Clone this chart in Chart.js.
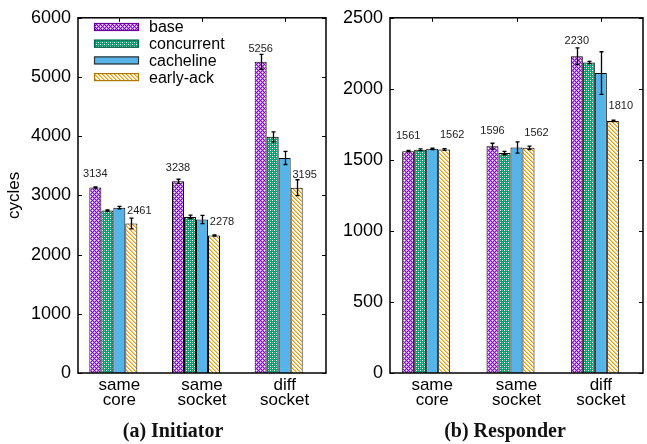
<!DOCTYPE html>
<html><head><meta charset="utf-8">
<script src="https://cdn.jsdelivr.net/npm/chart.js@4.4.0/dist/chart.umd.min.js"></script>
<style>
html,body{margin:0;padding:0;background:#fff;width:647px;height:444px;overflow:hidden;position:relative}
#c1{position:absolute;left:0;top:0;width:330px;height:444px}
#c2{position:absolute;left:330px;top:0;width:317px;height:444px}
.cap{position:absolute;top:419px;font-family:"Liberation Serif",serif;font-weight:bold;font-size:20px;line-height:22px;color:#111;text-align:center;width:200px}
</style></head><body>
<canvas id="c1" width="330" height="444"></canvas>
<canvas id="c2" width="317" height="444"></canvas>
<div class="cap" style="left:73px">(a) Initiator</div>
<div class="cap" style="left:405px">(b) Responder</div>
<script>
// ---------- data ----------
const categories = [['same','core'],['same','socket'],['diff','socket']];
const seriesNames = ['base','concurrent','cacheline','early-ack'];

const initiatorTicks = [0,1000,2000,3000,4000,5000,6000];
const initiatorBase = [3134, 3238, 5256];
const initiatorConcurrent = [2743, 2636, 3989];
const initiatorCacheline = [2793, 2592, 3632];
const initiatorEarlyAck = [2525, 2324, 3130];
const initiatorBaseErr = [10, 35, 125];
const initiatorConcurrentErr = [10, 30, 85];
const initiatorCachelineErr = [20, 70, 110];
const initiatorEarlyAckErr = [90, 10, 134];
const initiatorBaseLabels = ['3134','3238','5256'];
const initiatorEarlyAckLabels = ['2461','2278','3195'];

const responderTicks = [0,500,1000,1500,2000,2500];
const responderBase = [1561, 1596, 2230];
const responderConcurrent = [1571, 1548, 2186];
const responderCacheline = [1578, 1587, 2111];
const responderEarlyAck = [1573, 1585, 1774];
const responderBaseErr = [5, 21, 58];
const responderConcurrentErr = [6, 12, 8];
const responderCachelineErr = [5, 40, 150];
const responderEarlyAckErr = [6, 12, 5];
const responderBaseLabels = ['1561','1596','2230'];
const responderEarlyAckLabels = ['1562','1562','1810'];

// ---------- styles ----------
const PURPLE='#9400d3', GREEN='#009e73', BLUE='#56b4e9', ORANGE='#e69f00';
function makePatterns(ctx){
  function tile(n, draw){ const c=document.createElement('canvas'); c.width=c.height=n; const t=c.getContext('2d'); draw(t,n); return ctx.createPattern(c,'repeat'); }
  const base = tile(4,(t,n)=>{
    for(let x=0;x<n;x++)for(let y=0;y<n;y++){
      let col='#c77eee';
      if((x+y)%4===0||(x-y+8)%4===0) col=PURPLE;
      if((x===0&&y===2)||(x===2&&y===0)) col='#fff';
      t.fillStyle=col; t.fillRect(x,y,1,1);
    }});
  const conc = tile(4,(t,n)=>{ t.fillStyle=GREEN; t.fillRect(0,0,n,n);
    t.fillStyle='#fff'; t.fillRect(0,0,1,1); t.fillRect(2,2,1,1);
    t.fillStyle='#66c5aa'; t.fillRect(0,2,1,1); t.fillRect(2,0,1,1); });
  const early = tile(4,(t,n)=>{ t.fillStyle='#fff'; t.fillRect(0,0,n,n);
    for(let x=0;x<n;x++)for(let y=0;y<n;y++){
      const d=(x-y+8)%4;
      if(d===0){ t.fillStyle=ORANGE; t.fillRect(x,y,1,1); }
      else if(d===1){ t.fillStyle='#f2cc7a'; t.fillRect(x,y,1,1); }
    }});
  return [base, conc, BLUE, early];
}
const legendBorders = ['#6a0099','#00664a','#333','#b07800'];

const extras = {
  id:'extras',
  beforeDatasetsDraw(chart){
    const {ctx, chartArea:a, scales:{x,y}} = chart;
    ctx.save(); ctx.strokeStyle='#000'; ctx.lineWidth=1;
    y.ticks.forEach(t=>{ const py=Math.round(y.getPixelForValue(t.value))+0.5;
      ctx.beginPath(); ctx.moveTo(a.left,py); ctx.lineTo(a.left+4,py); ctx.moveTo(a.right,py); ctx.lineTo(a.right-4,py); ctx.stroke(); });
    x.ticks.forEach((t,i)=>{ const px=Math.round(x.getPixelForValue(i))+0.5;
      ctx.beginPath(); ctx.moveTo(px,a.top); ctx.lineTo(px,a.top+4); ctx.moveTo(px,a.bottom); ctx.lineTo(px,a.bottom-4); ctx.stroke(); });
    ctx.restore();
  },
  afterDatasetsDraw(chart, args, opts){
    const {ctx, chartArea:a, scales:{y}} = chart;
    ctx.save();
    // error bars
    ctx.strokeStyle='#000'; ctx.lineWidth=1.3;
    chart.data.datasets.forEach((ds,di)=>{
      if(!ds.errors) return;
      const meta=chart.getDatasetMeta(di);
      meta.data.forEach((bar,i)=>{
        const v=ds.data[i], e=ds.errors[i]; if(v==null) return;
        const x=Math.round(bar.x)+0.5, y1=y.getPixelForValue(v-e), y2=y.getPixelForValue(v+e);
        ctx.beginPath(); ctx.moveTo(x,y1); ctx.lineTo(x,y2);
        ctx.moveTo(x-2,y1); ctx.lineTo(x+2,y1); ctx.moveTo(x-2,y2); ctx.lineTo(x+2,y2); ctx.stroke();
      });
    });
    // value labels
    ctx.fillStyle='#222'; ctx.font='11px "Liberation Sans", Arial, sans-serif'; ctx.textAlign='center'; ctx.textBaseline='middle';
    const mb=chart.getDatasetMeta(0), me=chart.getDatasetMeta(3);
    opts.baseLabels.forEach((s,i)=>{ const b=mb.data[i]; ctx.fillText(s, b.x, b.y-opts.labelOffset); });
    opts.earlyLabels.forEach((s,i)=>{ const b=me.data[i]; ctx.fillText(s, b.x+8, b.y-opts.labelOffset); });
    // frame
    ctx.strokeStyle='#000'; ctx.lineWidth=1.5;
    ctx.strokeRect(a.left, a.top, a.right-a.left, a.bottom-a.top);
    // legend
    if(opts.legend){
      const L=opts.legend;
      ctx.font='16px "Liberation Sans", Arial, sans-serif'; ctx.textAlign='left'; ctx.fillStyle='#000';
      seriesNames.forEach((name,i)=>{
        const yy=L.y+i*L.gap;
        ctx.fillStyle=chart.data.datasets[i].backgroundColor; ctx.fillRect(L.x, yy-4, 45, 8);
        ctx.strokeStyle=legendBorders[i]; ctx.lineWidth=1.2; ctx.strokeRect(L.x+0.5, yy-4+0.5, 44, 7);
        ctx.fillStyle='#000'; ctx.fillText(name, L.x+55, yy+1);
      });
    }
    ctx.restore();
  }
};

function makeChart(id, cfg){
  const canvas=document.getElementById(id); const ctx=canvas.getContext('2d');
  const pats=makePatterns(ctx);
  const vals=[cfg.base,cfg.conc,cfg.cache,cfg.early], errs=[cfg.baseErr,cfg.concErr,cfg.cacheErr,cfg.earlyErr];
  const datasets = seriesNames.map((n,i)=>({label:n, data:vals[i], errors:errs[i], backgroundColor:pats[i], borderColor:'#000', borderWidth:1}));
  datasets.push({label:'', data:categories.map(()=>null)});
  return new Chart(ctx,{
    type:'bar',
    data:{labels:categories, datasets},
    options:{
      responsive:false, animation:false, events:[],
      datasets:{bar:{categoryPercentage:cfg.catPct, barPercentage:1}},
      layout:{padding:{top:15,right:4,left:0,bottom:0}},
      plugins:{legend:{display:false}, tooltip:{enabled:false},
        extras:{baseLabels:cfg.baseLabels, earlyLabels:cfg.earlyLabels, labelOffset:cfg.labelOffset, legend:cfg.legend}},
      scales:{
        x:{grid:{display:false,drawTicks:false}, border:{display:false},
           ticks:{color:'#000', padding:5, maxRotation:0, autoSkip:false, font:{family:'"Liberation Sans", Arial, sans-serif', size:17, lineHeight:'15px'}},
           afterFit(s){ s.height=71; }},
        y:{min:0, max:cfg.ticks[cfg.ticks.length-1], grid:{display:false,drawTicks:false}, border:{display:false},
           afterBuildTicks(s){ s.ticks=cfg.ticks.map(v=>({value:v})); },
           ticks:{color:'#000', padding:7, callback:(v)=>String(v), font:{family:'"Liberation Sans", Arial, sans-serif', size:18}},
           title:{display:!!cfg.yTitle, text:cfg.yTitle||'', color:'#000', padding:{top:4,bottom:0}, font:{family:'"Liberation Sans", Arial, sans-serif', size:17}},
           afterFit(s){ s.width=cfg.yWidth; }}
      }
    },
    plugins:[extras]
  });
}

makeChart('c1',{base:initiatorBase, conc:initiatorConcurrent, cache:initiatorCacheline, early:initiatorEarlyAck,
  baseErr:initiatorBaseErr, concErr:initiatorConcurrentErr, cacheErr:initiatorCachelineErr, earlyErr:initiatorEarlyAckErr,
  baseLabels:initiatorBaseLabels, earlyLabels:initiatorEarlyAckLabels, ticks:initiatorTicks,
  catPct:60/82.67, yWidth:78, yTitle:'cycles', labelOffset:13, legend:{x:94, y:27, gap:16.7}});
makeChart('c2',{base:responderBase, conc:responderConcurrent, cache:responderCacheline, early:responderEarlyAck,
  baseErr:responderBaseErr, concErr:responderConcurrentErr, cacheErr:responderCachelineErr, earlyErr:responderEarlyAckErr,
  baseLabels:responderBaseLabels, earlyLabels:responderEarlyAckLabels, ticks:responderTicks,
  catPct:60/84.33, yWidth:60, labelOffset:15, legend:null});
</script>
</body></html>
